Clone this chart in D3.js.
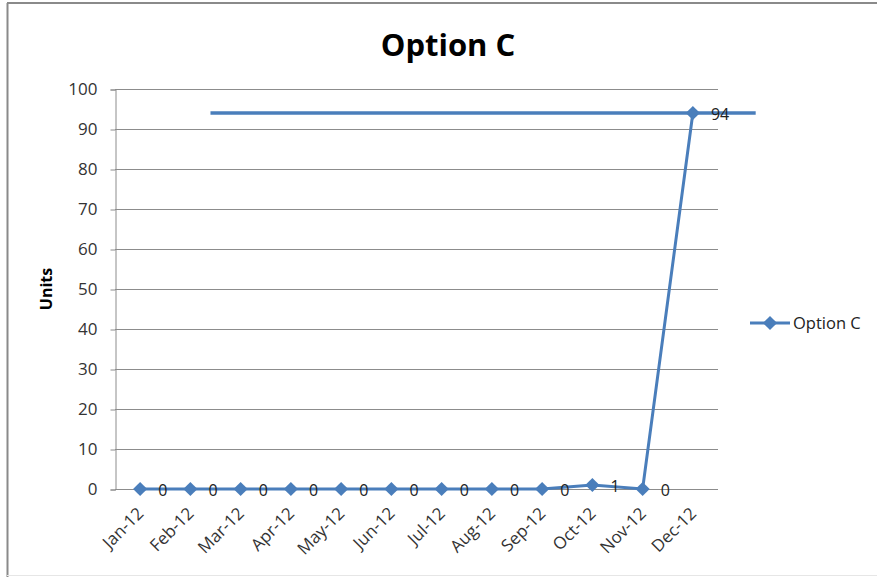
<!DOCTYPE html>
<html>
<head>
<meta charset="utf-8">
<script src="https://cdn.jsdelivr.net/npm/d3@7"></script>
<style>
  body { margin: 0; background: #fff; }
  text { font-family: "Open Sans", "Liberation Sans", sans-serif; }
</style>
</head>
<body>
<div id="chart"></div>
<script>
var months = ['Jan-12', 'Feb-12', 'Mar-12', 'Apr-12', 'May-12', 'Jun-12',
              'Jul-12', 'Aug-12', 'Sep-12', 'Oct-12', 'Nov-12', 'Dec-12'];
var values = [0, 0, 0, 0, 0, 0, 0, 0, 0, 1, 0, 94];
var yTicks = [0, 10, 20, 30, 40, 50, 60, 70, 80, 90, 100];
// stray horizontal line in the reference, in month-index units
var refValue = 94;
var refFrom = 1.4;
var refTo = 12.25;

var width = 877, height = 577;
var plotLeft = 115, plotRight = 718, plotTop = 89, plotBottom = 489;
var blue = '#4a7ebb';

var svg = d3.select('#chart')
	.append('svg')
	.attr('width', width)
	.attr('height', height);

// outer frame
svg.append('line').attr('x1', 7).attr('x2', width).attr('y1', 3).attr('y2', 3)
	.style('stroke', '#8a8a8a').style('stroke-width', 2);
svg.append('line').attr('x1', 7.5).attr('x2', 7.5).attr('y1', 3).attr('y2', height)
	.style('stroke', '#8a8a8a').style('stroke-width', 2);
svg.append('line').attr('x1', 7).attr('x2', width).attr('y1', 575.5).attr('y2', 575.5)
	.style('stroke', '#e6e6e6');

var x = d3.scaleLinear().domain([-0.5, 11.5]).range([plotLeft, plotRight]);
var y = d3.scaleLinear().domain([0, 100]).range([plotBottom, plotTop]);

// gridlines
svg.selectAll('line.grid')
	.data(yTicks.slice(1))
	.enter()
	.append('line')
	.attr('class', 'grid')
	.attr('x1', plotLeft).attr('x2', plotRight)
	.attr('y1', function(d) { return y(d) + 0.5; })
	.attr('y2', function(d) { return y(d) + 0.5; })
	.style('stroke', '#8c8c8c');

// y axis
var yAxis = svg.append('g')
	.attr('transform', 'translate(' + (plotLeft + 0.5) + ',0.5)')
	.call(d3.axisLeft(y).tickValues(yTicks).tickSize(5).tickPadding(13));
yAxis.select('.domain').style('stroke', '#8c8c8c');
yAxis.selectAll('.tick line').style('stroke', '#8c8c8c');
yAxis.selectAll('text').style('font-size', '17px').style('fill', '#333');

// x axis
var xAxis = svg.append('g')
	.attr('transform', 'translate(0,' + (plotBottom + 0.5) + ')')
	.call(d3.axisBottom(x).tickValues(d3.range(12)).tickSize(0).tickFormat(function(d) { return months[d]; }));
xAxis.select('.domain').attr('d', 'M' + plotLeft + ',0H' + plotRight).style('stroke', '#8c8c8c');
xAxis.selectAll('text')
	.style('font-size', '17px').style('fill', '#333')
	.attr('text-anchor', 'end')
	.attr('dy', null).attr('y', 0)
	.attr('transform', 'translate(4,25) rotate(-45)');

// title
svg.append('text')
	.text('Option C')
	.attr('x', 448).attr('y', 56)
	.attr('text-anchor', 'middle')
	.style('font-size', '31px').style('font-weight', 'bold').style('fill', '#000');

// y title
svg.append('text')
	.text('Units')
	.attr('transform', 'translate(52,289) rotate(-90)')
	.attr('text-anchor', 'middle')
	.style('font-size', '16px').style('font-weight', 'bold').style('fill', '#000');

// stray line
svg.append('line')
	.attr('x1', x(refFrom)).attr('x2', x(refTo))
	.attr('y1', y(refValue)).attr('y2', y(refValue))
	.style('stroke', blue).style('stroke-width', 3.5);

// series line
var line = d3.line()
	.x(function(d, i) { return x(i); })
	.y(function(d) { return y(d); });

svg.append('path')
	.datum(values)
	.attr('d', line)
	.style('fill', 'none')
	.style('stroke', blue)
	.style('stroke-width', 3);

var diamond = d3.symbol().type(d3.symbolSquare).size(100);

svg.selectAll('path.marker')
	.data(values)
	.enter()
	.append('path')
	.attr('class', 'marker')
	.attr('d', diamond)
	.attr('transform', function(d, i) { return 'translate(' + x(i) + ',' + y(d) + ') rotate(45)'; })
	.style('fill', blue);

// data labels
svg.selectAll('text.label')
	.data(values)
	.enter()
	.append('text')
	.attr('class', 'label')
	.text(function(d) { return d; })
	.attr('x', function(d, i) { return x(i) + 18; })
	.attr('y', function(d) { return y(d) + 7; })
	.style('font-size', '16px').style('fill', '#222');

// legend
var legend = svg.append('g').attr('transform', 'translate(750,323)');
legend.append('line').attr('x1', 0).attr('x2', 40).attr('y1', 0).attr('y2', 0)
	.style('stroke', blue).style('stroke-width', 3);
legend.append('path').attr('d', diamond).attr('transform', 'translate(20,0) rotate(45)').style('fill', blue);
legend.append('text').text('Option C').attr('x', 43).attr('y', 6)
	.style('font-size', '16.5px').style('fill', '#222');
</script>
</body>
</html>
